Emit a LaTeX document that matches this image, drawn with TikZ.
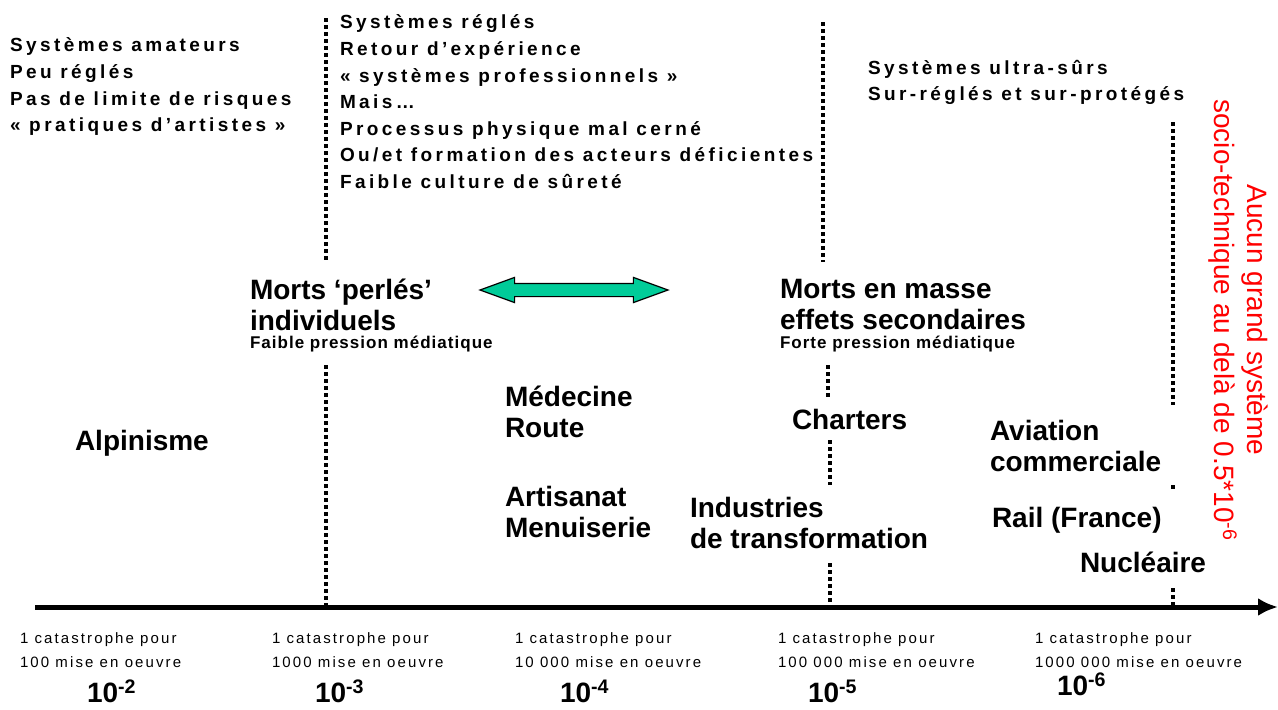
\documentclass[tikz,border=0pt]{standalone}
\usepackage{fontspec}
\setmainfont{Liberation Sans}
\newfontfamily\widefont[LetterSpace=18]{Liberation Sans}
\newfontfamily\smallwide[LetterSpace=14]{Liberation Sans}
\newfontfamily\pressfont[LetterSpace=6]{Liberation Sans}
\usetikzlibrary{arrows.meta,positioning,shapes.arrows}
\definecolor{arrowgreen}{RGB}{0,204,153}
\definecolor{limitred}{RGB}{255,0,0}

\begin{document}
\begin{tikzpicture}[x=1pt,y=-1pt,
      every node/.style={inner sep=0pt,outer sep=0pt,anchor=north west,align=left},
      note/.style={font=\widefont\bfseries\fontsize{19}{26.6}\selectfont},
      activity/.style={font=\bfseries\fontsize{28}{31}\selectfont},
      press/.style={font=\pressfont\bfseries\fontsize{17}{18}\selectfont},
      freq/.style={font=\smallwide\fontsize{15}{24}\selectfont},
      expo/.style={font=\bfseries\fontsize{28}{30}\selectfont},
      guide/.style={line width=3.5pt,dash pattern=on 3.5pt off 3.5pt}]
    \useasboundingbox (0,0) rectangle (1278,710);
    % dotted separations
    \draw[guide] (326,18) -- (326,262);
    \draw[guide] (326,365) -- (326,605);
    \draw[guide] (823,22) -- (823,262);
    \draw[guide] (828,365) -- (828,397);
    \draw[guide] (830,440) -- (830,485);
    \draw[guide] (830,563) -- (830,605);
    \draw[guide] (1173,122) -- (1173,405);
    \draw[guide] (1173,485) -- (1173,492);
    \draw[guide] (1173,588) -- (1173,605);
    % axis
    \coordinate (axstart) at (35,607);
    \coordinate (axend) at (1278,607);
    \draw[line width=5pt,-{Latex[length=20pt,width=18pt]}] (axstart) -- (axend);
    % system classes
    \node[note] (amat) at (10,38) {Systèmes amateurs\\Peu réglés\\Pas de limite de risques\\« pratiques d’artistes »};
    \node[note] (regl) at (340,15) {Systèmes réglés\\Retour d’expérience\\« systèmes professionnels »\\Mais…\\Processus physique mal cerné\\Ou/et formation des acteurs déficientes\\Faible culture de sûreté};
    \node[note] (ultra) at (868,60) {Systèmes ultra-sûrs\\Sur-réglés et sur-protégés};
    % kinds of deaths
    \node[activity] (perles) at (250,279) {Morts ‘perlés’\\individuels};
    \node[press] (faible) at (250,336) {Faible pression médiatique};
    \node[activity] (masse) at (780,279) {Morts en masse\\effets secondaires};
    \node[press] (forte) at (780,336) {Forte pression médiatique};
    \node[double arrow,draw,line width=1.2pt,fill=arrowgreen,anchor=center,
          inner xsep=0pt,inner ysep=6pt,minimum height=188pt,
          double arrow head extend=6pt,double arrow tip angle=40] (duality) at (574,290) {};
    % activities
    \node[activity] (alpi) at (75,430) {Alpinisme};
    \node[activity] (med) at (505,386) {Médecine\\Route};
    \node[activity] (arti) at (505,486) {Artisanat\\Menuiserie};
    \node[activity] (charter) at (792,409) {Charters};
    \node[activity] (indus) at (690,497) {Industries\\de transformation};
    \node[activity] (avia) at (990,420) {Aviation\\commerciale};
    \node[activity] (rail) at (992,507) {Rail (France)};
    \node[activity] (nucl) at (1080,552) {Nucléaire};
    % limit
    \node[rotate=-90,anchor=center,align=center,text=limitred,font=\fontsize{28}{33}\selectfont] (limit) at (1238,320)
      {Aucun grand système\\socio-technique au delà de 0.5*10\textsuperscript{-6}};
    % frequencies
    \node[freq] (f2) at (20,633) {1 catastrophe pour\\100 mise en oeuvre};
    \node[freq] (f3) at (272,633) {1 catastrophe pour\\1000 mise en oeuvre};
    \node[freq] (f4) at (515,633) {1 catastrophe pour\\10 000 mise en oeuvre};
    \node[freq] (f5) at (778,633) {1 catastrophe pour\\100 000 mise en oeuvre};
    \node[freq] (f6) at (1035,633) {1 catastrophe pour\\1000 000 mise en oeuvre};
    \node[expo] (e2) at (87,680) {10\textsuperscript{-2}};
    \node[expo] (e3) at (315,680) {10\textsuperscript{-3}};
    \node[expo] (e4) at (560,680) {10\textsuperscript{-4}};
    \node[expo] (e5) at (808,680) {10\textsuperscript{-5}};
    \node[expo] (e6) at (1057,673) {10\textsuperscript{-6}};
  \end{tikzpicture}
\end{document}
